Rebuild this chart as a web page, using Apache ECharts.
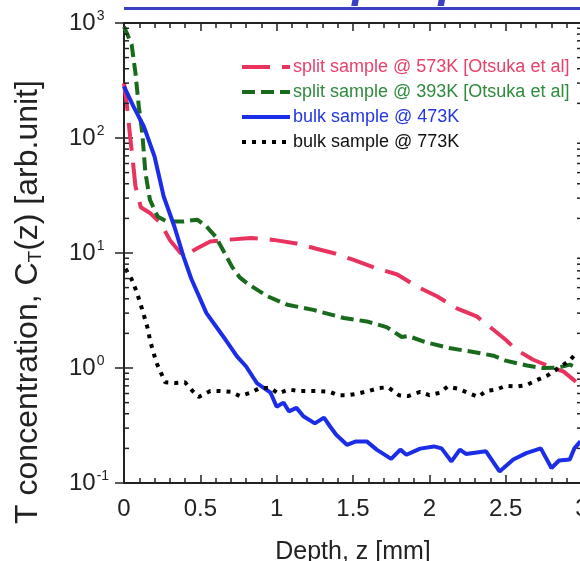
<!DOCTYPE html>
<html>
<head>
<meta charset="utf-8">
<script src="https://cdn.jsdelivr.net/npm/echarts@6/dist/echarts.min.js"></script>
<style>
html,body{margin:0;padding:0;background:#fff;}
#c{width:580px;height:561px;}
</style>
</head>
<body>
<div id="c"></div>
<script>
// ---- data ----
const redZ = [0, 0.02, 0.04, 0.055, 0.075, 0.11, 0.17, 0.24, 0.3, 0.37, 0.41, 0.48, 0.565, 0.67, 0.83, 0.98, 1.13, 1.26, 1.37, 1.5, 1.65, 1.79, 1.92, 2.05, 2.18, 2.31, 2.42, 2.5, 2.57, 2.68, 2.79, 2.88, 2.96];
const redC = [300, 188, 103, 69, 38, 25, 22.3, 18.2, 13, 10, 9.7, 11, 12.6, 13, 13.5, 13, 12.1, 10.9, 10, 8.75, 7.4, 6.5, 5.1, 4.2, 3.3, 2.81, 2.15, 1.76, 1.44, 1.18, 1.03, 0.93, 0.76];

const greenZ = [0, 0.05, 0.075, 0.097, 0.12, 0.14, 0.17, 0.22, 0.28, 0.39, 0.48, 0.54, 0.6, 0.65, 0.71, 0.76, 0.81, 0.94, 1.07, 1.24, 1.44, 1.59, 1.72, 1.82, 1.86, 1.98, 2.13, 2.27, 2.42, 2.5, 2.64, 2.74, 2.85, 2.92, 2.97];
const greenC = [930, 650, 367, 188, 110, 50, 29, 20.8, 18.8, 18.8, 19.5, 17, 13.9, 10.5, 7.5, 6.1, 5.4, 4.2, 3.55, 3.2, 2.72, 2.54, 2.27, 1.86, 1.9, 1.67, 1.49, 1.39, 1.28, 1.16, 1.05, 1.0, 1.01, 1.07, 1.0];

const blueZ = [0, 0.06, 0.13, 0.2, 0.26, 0.33, 0.39, 0.44, 0.54, 0.65, 0.74, 0.8, 0.87, 0.96, 1.0, 1.045, 1.08, 1.13, 1.175, 1.25, 1.31, 1.35, 1.39, 1.46, 1.52, 1.59, 1.655, 1.75, 1.81, 1.85, 1.94, 2.03, 2.08, 2.145, 2.2, 2.24, 2.37, 2.46, 2.55, 2.635, 2.73, 2.8, 2.85, 2.92, 2.95, 2.99];
const blueC = [281, 190, 126, 69, 31, 17, 9.3, 6.0, 3.0, 1.88, 1.26, 1.03, 0.74, 0.61, 0.46, 0.50, 0.42, 0.45, 0.38, 0.33, 0.37, 0.31, 0.263, 0.215, 0.23, 0.23, 0.195, 0.162, 0.195, 0.176, 0.199, 0.208, 0.20, 0.154, 0.195, 0.179, 0.189, 0.126, 0.16, 0.182, 0.20, 0.135, 0.157, 0.16, 0.20, 0.23];

const blackZ = [0.01, 0.05, 0.08, 0.1, 0.12, 0.14, 0.16, 0.17, 0.19, 0.21, 0.24, 0.27, 0.34, 0.40, 0.45, 0.49, 0.565, 0.63, 0.70, 0.76, 0.83, 0.89, 0.96, 1.01, 1.08, 1.15, 1.22, 1.28, 1.35, 1.40, 1.47, 1.535, 1.6, 1.67, 1.73, 1.80, 1.86, 1.94, 2.0, 2.07, 2.12, 2.19, 2.25, 2.32, 2.37, 2.44, 2.5, 2.57, 2.635, 2.7, 2.78, 2.85, 2.92, 2.97];
const blackC = [7.3, 5.9, 4.7, 3.9, 3.2, 2.6, 2.1, 1.73, 1.42, 1.13, 0.92, 0.75, 0.74, 0.75, 0.63, 0.56, 0.63, 0.63, 0.62, 0.57, 0.61, 0.67, 0.67, 0.60, 0.65, 0.63, 0.63, 0.63, 0.62, 0.58, 0.58, 0.60, 0.63, 0.67, 0.68, 0.58, 0.57, 0.62, 0.58, 0.61, 0.69, 0.66, 0.61, 0.56, 0.63, 0.65, 0.70, 0.69, 0.71, 0.78, 0.87, 1.01, 1.16, 1.39];

const seriesNames = ['split sample @ 573K [Otsuka et al]', 'split sample @ 393K [Otsuka et al]', 'bulk sample @ 473K', 'bulk sample @ 773K'];
const xTickLabels = ['0', '0.5', '1', '1.5', '2', '2.5', '3'];
const yMinorTicks = [0.2,0.3,0.4,0.5,0.6,0.7,0.8,0.9, 2,3,4,5,6,7,8,9, 20,30,40,50,60,70,80,90, 200,300,400,500,600,700,800,900];

// ---- helpers ----
const zip = (a, b) => a.map((v, i) => [v, b[i]]);
const FONT = 'Liberation Sans, Arial, sans-serif';
const supMap = {'0.1': '-1', '1': '0', '10': '1', '100': '2', '1000': '3'};

const chart = echarts.init(document.getElementById('c'), null, {renderer: 'canvas'});

const axisLine = {show: true, lineStyle: {color: '#222', width: 2}};
const xTick = {show: true, inside: true, length: 8, lineStyle: {color: '#222', width: 1.5}};
const xMinor = {show: true, splitNumber: 5, length: 5, lineStyle: {color: '#222', width: 1.5}};
const yTick = {show: true, inside: true, length: 9, lineStyle: {color: '#222', width: 1.5}};

const option = {
  animation: false,
  backgroundColor: '#fff',
  grid: {left: 124, top: 23, width: 458, height: 460, containLabel: false, outerBoundsMode: 'none'},
  legend: {
    orient: 'vertical', left: 240, top: 58,
    itemWidth: 48, itemHeight: 14, itemGap: 7,
    padding: 0,
    itemStyle: {opacity: 0, borderWidth: 0},
    lineStyle: {width: 4},
    data: [
      {name: seriesNames[0], textStyle: {color: '#e8416b'}},
      {name: seriesNames[1], textStyle: {color: '#2e8b3d'}},
      {name: seriesNames[2], textStyle: {color: '#2436e0'}},
      {name: seriesNames[3], textStyle: {color: '#111'}}
    ],
    textStyle: {fontFamily: FONT, fontSize: 18, padding: [0, 0, 0, -2]}
  },
  xAxis: [{
    type: 'value', min: 0, max: 3, interval: 0.5, position: 'bottom',
    axisLine: axisLine, axisTick: xTick, minorTick: xMinor,
    splitLine: {show: false},
    axisLabel: {show: true, margin: 14, color: '#222', fontFamily: FONT, fontSize: 24,
      formatter: (v) => xTickLabels[Math.round(v * 2)]},
    name: 'Depth, z [mm]', nameLocation: 'middle', nameGap: 57,
    nameTextStyle: {color: '#222', fontFamily: FONT, fontSize: 25}
  }, {
    type: 'value', min: 0, max: 3, interval: 0.5, position: 'top',
    axisLine: axisLine, axisTick: xTick, minorTick: xMinor,
    splitLine: {show: false}, axisLabel: {show: false}
  }],
  yAxis: [{
    type: 'log', logBase: 10, min: 0.1, max: 1000, position: 'left',
    axisLine: axisLine, axisTick: yTick, splitLine: {show: false},
    axisLabel: {show: true, margin: 55, align: 'left', color: '#222', fontFamily: FONT, fontSize: 24,
      formatter: (v) => '10{s|' + supMap[String(+v.toPrecision(3))] + '}',
      rich: {s: {fontSize: 14, fontFamily: FONT, color: '#222', verticalAlign: 'bottom', padding: [0, 0, 13, 1]}}}
  }, {
    type: 'log', logBase: 10, min: 0.1, max: 1000, position: 'right',
    axisLine: axisLine, axisTick: yTick, splitLine: {show: false}, axisLabel: {show: false}
  }],
  graphic: [
    {type: 'text', x: 126, y: 7, z: 10,
     style: {text: 'Tritium depth profile', fill: '#3b3fc4', font: 'italic bold 47px ' + FONT,
             textAlign: 'left', textVerticalAlign: 'bottom'}},
    {type: 'line', z: 10, shape: {x1: 124, y1: 8.5, x2: 580, y2: 8.5},
     style: {stroke: '#3b3fc4', lineWidth: 3}},
    {type: 'text', x: 28, y: 302, rotation: Math.PI / 2, z: 10,
     style: {text: 'T concentration, C{sub|T}(z) [arb.unit]', fill: '#222', font: '32px ' + FONT,
             textAlign: 'center', textVerticalAlign: 'middle',
             rich: {sub: {fontSize: 19, fontFamily: FONT, fill: '#222', verticalAlign: 'top', padding: [16, 0, 0, 0]}}}}
  ],
  series: [
    {name: seriesNames[0], type: 'line', data: zip(redZ, redC), showSymbol: false, symbol: 'none',
     lineStyle: {color: '#e8335f', width: 4, type: [28, 12]}, itemStyle: {color: '#e8335f'}, z: 3},
    {name: seriesNames[1], type: 'line', data: zip(greenZ, greenC), showSymbol: false, symbol: 'none',
     lineStyle: {color: '#1a6a1e', width: 4, type: [13, 6]}, itemStyle: {color: '#1a6a1e'}, z: 4},
    {name: seriesNames[2], type: 'line', data: zip(blueZ, blueC), showSymbol: false, symbol: 'none',
     lineStyle: {color: '#1b2de6', width: 4}, itemStyle: {color: '#1b2de6'}, z: 5},
    {name: seriesNames[3], type: 'line', data: zip(blackZ, blackC), showSymbol: false, symbol: 'none',
     lineStyle: {color: '#000', width: 4, type: [4, 6]}, itemStyle: {color: '#000'}, z: 6},
    {type: 'custom', silent: true, clip: false, z: 7,
     data: yMinorTicks.map(v => [0, v]),
     renderItem: (params, api) => {
       const v = api.value(1);
       const l = api.coord([0, v]);
       const r = api.coord([3, v]);
       return {type: 'group', children: [
         {type: 'line', shape: {x1: l[0], y1: l[1], x2: l[0] + 5, y2: l[1]}, style: {stroke: '#222', lineWidth: 1.5}},
         {type: 'line', shape: {x1: r[0], y1: r[1], x2: r[0] - 5, y2: r[1]}, style: {stroke: '#222', lineWidth: 1.5}}
       ]};
     }}
  ]
};
chart.setOption(option);
</script>
</body>
</html>
